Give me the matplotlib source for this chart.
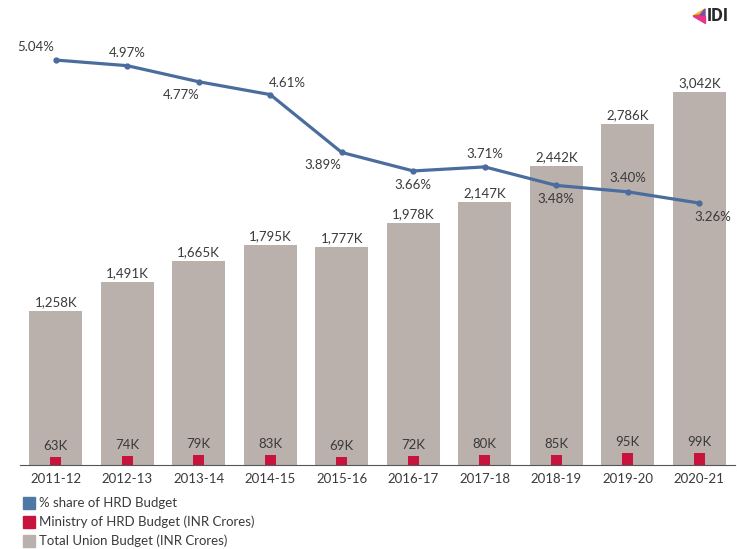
import numpy as np
import matplotlib.pyplot as plt
from matplotlib.patches import Polygon

plt.rcParams['font.family'] = ['Lato', 'DejaVu Sans']

years = ['2011-12', '2012-13', '2013-14', '2014-15', '2015-16',
         '2016-17', '2017-18', '2018-19', '2019-20', '2020-21']
union_budget = [1258, 1491, 1665, 1795, 1777, 1978, 2147, 2442, 2786, 3042]
hrd_budget = [63, 74, 79, 83, 69, 72, 80, 85, 95, 99]
hrd_share = [5.04, 4.97, 4.77, 4.61, 3.89, 3.66, 3.71, 3.48, 3.40, 3.26]

# where each % label sits relative to its point (pixels)
share_offsets = [(-20, 13), (0, 13), (-18, -13), (17, 12), (-19, -13),
                 (0, -14), (0, 13), (0, -14), (0, 14), (14, -14)]

GRAY = '#bab0ac'
RED = '#c8143c'
BLUE = '#4a6d9d'
TXT = '#3a3a3a'

fig = plt.figure(figsize=(7.37, 5.49), dpi=100)
ax = fig.add_axes([20 / 737, 84 / 549, 715 / 737, 435 / 549])
x = np.arange(len(years))

ax.bar(x, union_budget, width=0.74, color=GRAY, zorder=1)
ax.bar(x, hrd_budget, width=0.15, color=RED, zorder=2)
ax.set_xlim(-0.5, len(years) - 0.5)
ax.set_ylim(0, 3551)

for i, v in enumerate(union_budget):
    ax.annotate(f'{v:,}K', (i, v), xytext=(0, 9), textcoords='offset pixels',
                ha='center', va='center', fontsize=9.5, color=TXT)
for i, v in enumerate(hrd_budget):
    ax.annotate(f'{v}K', (i, v), xytext=(0, 11), textcoords='offset pixels',
                ha='center', va='center', fontsize=9.5, color=TXT)

for s in ['top', 'right', 'left']:
    ax.spines[s].set_visible(False)
ax.spines['bottom'].set_color('#555555')
ax.set_yticks([])
ax.set_xticks(x)
ax.set_xticklabels(years, fontsize=9.5, color=TXT)
ax.tick_params(axis='x', length=0, pad=6)

ax2 = ax.twinx()
ax2.set_ylim(0, 5.414)
ax2.plot(x, hrd_share, color=BLUE, lw=2.3, marker='o', markersize=3.5, zorder=3)
for i, v in enumerate(hrd_share):
    dx, dy = share_offsets[i]
    ax2.annotate(f'{v:.2f}%', (i, v), xytext=(dx, dy), textcoords='offset pixels',
                 ha='center', va='center', fontsize=9.5, color=TXT)
ax2.axis('off')

# legend
legend_items = [('% share of HRD Budget', '#4e79a7'),
                ('Ministry of HRD Budget (INR Crores)', RED),
                ('Total Union Budget (INR Crores)', GRAY)]
for k, (label, col) in enumerate(legend_items):
    yc = 503 + k * 19
    fig.patches.append(plt.Rectangle((23 / 737, 1 - (yc + 6) / 549), 12 / 737, 12 / 549,
                                     transform=fig.transFigure, color=col))
    fig.text(39 / 737, 1 - yc / 549, label, fontsize=9.5, color=TXT, va='center')

# little logo
def px(xp, yp):
    return (xp / 737, 1 - yp / 549)

logo = [([px(693, 16), px(705, 9), px(700, 15)], '#f2b632'),
        ([px(693, 16), px(700, 15), px(705, 16)], '#e94b3c'),
        ([px(705, 9), px(705, 16), px(700, 15)], '#7d4ea3'),
        ([px(693, 16), px(705, 16), px(705, 23)], '#e6358a')]
for pts, col in logo:
    fig.patches.append(Polygon(pts, closed=True, transform=fig.transFigure, color=col))
fig.text(707 / 737, 1 - 16 / 549, 'IDI', fontsize=13, fontweight='semibold',
         color='#2a2a2a', va='center', family=['Roboto', 'DejaVu Sans'],
         fontstretch='condensed')

fig.savefig('out.png', dpi=100)
